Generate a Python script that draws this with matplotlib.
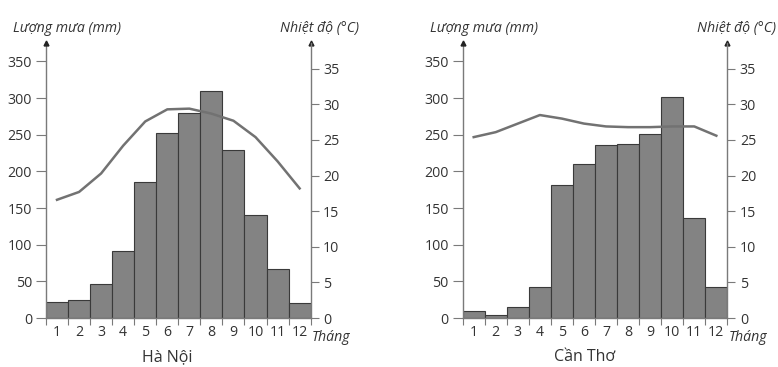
import matplotlib
matplotlib.use("Agg")
import matplotlib.pyplot as plt
import numpy as np

plt.rcParams['font.family'] = ['Open Sans', 'DejaVu Sans']

months = list(range(1, 13))
month_labels = [str(m) for m in months]

hn_rain = [22, 25, 47, 92, 186, 253, 280, 310, 229, 141, 67, 20]
hn_temp = [16.6, 17.7, 20.3, 24.2, 27.6, 29.3, 29.4, 28.7, 27.7, 25.4, 22.0, 18.2]

ct_rain = [9, 4, 15, 42, 181, 210, 236, 238, 251, 301, 137, 42]
ct_temp = [25.4, 26.1, 27.3, 28.5, 28.0, 27.3, 26.9, 26.8, 26.8, 26.9, 26.9, 25.6]

rain_ticks = [0, 50, 100, 150, 200, 250, 300, 350]
temp_ticks = [0, 5, 10, 15, 20, 25, 30, 35]

titles = ["Hà Nội", "Cần Thơ"]

AX_COL = '#7a7a7a'
TXT_COL = '#333333'
FS = 10.2

fig = plt.figure(figsize=(7.78, 3.67), dpi=100)

def panel(left, rain, temp, title):
    ax = fig.add_axes([left, 0.1335, 0.3402, 0.749])
    ax.bar(months, rain, width=1.0, color='#838383', edgecolor='#3a3a3a', linewidth=0.8, zorder=2)
    ax.set_xlim(0.5, 12.5)
    ax.set_ylim(0, 375)
    ax.set_yticks(rain_ticks)
    ax.set_xticks(months)
    ax.set_xticklabels(month_labels)
    ax.set_xticks(np.arange(0.5, 13, 1.0), minor=True)
    ax.tick_params(axis='x', which='major', length=0, pad=5, labelsize=FS, labelcolor=TXT_COL)
    ax.tick_params(axis='x', which='minor', length=5, width=0.8, color=AX_COL, direction='out')
    ax.tick_params(axis='y', length=7, width=0.8, color=AX_COL, pad=3, labelsize=FS, labelcolor=TXT_COL)
    for s in ['top', 'right']:
        ax.spines[s].set_visible(False)
    for s in ['left', 'bottom']:
        ax.spines[s].set_color(AX_COL)
        ax.spines[s].set_linewidth(1.0)

    ax2 = ax.twinx()
    ax2.set_ylim(0, 38.6)
    ax2.set_yticks(temp_ticks)
    ax2.plot(months, temp, color='#727272', linewidth=1.8, zorder=5)
    ax2.tick_params(axis='y', length=6, width=0.8, color=AX_COL, pad=3, labelsize=FS, labelcolor=TXT_COL)
    for s in ['top', 'left', 'bottom']:
        ax2.spines[s].set_visible(False)
    ax2.spines['right'].set_color(AX_COL)
    ax2.spines['right'].set_linewidth(1.0)

    for xa in (0, 1):
        ax.plot(xa, 1.0, marker='^', markersize=3.5, color='#222222', transform=ax.transAxes,
                clip_on=False, zorder=10)

    ax.text(-0.125, 1.052, "Lượng mưa (mm)", transform=ax.transAxes, fontsize=FS,
            style='italic', color=TXT_COL, ha='left', va='center')
    ax.text(1.182, 1.052, "Nhiệt độ (°C)", transform=ax.transAxes, fontsize=FS,
            style='italic', color=TXT_COL, ha='right', va='center')
    ax.text(1.005, -0.07, "Tháng", transform=ax.transAxes, fontsize=FS,
            style='italic', color=TXT_COL, ha='left', va='center')
    ax.text(0.46, -0.142, title, transform=ax.transAxes, fontsize=11.5,
            color=TXT_COL, ha='center', va='center')

panel(0.0591, hn_rain, hn_temp, titles[0])
panel(0.5947, ct_rain, ct_temp, titles[1])

fig.savefig("out.png", dpi=100)
